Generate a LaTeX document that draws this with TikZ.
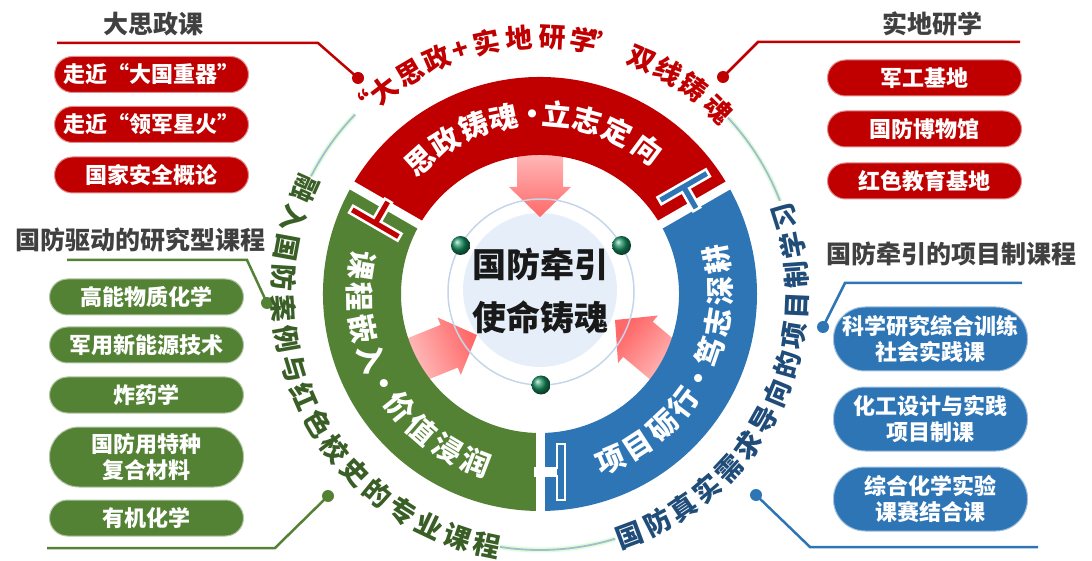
\documentclass[tikz,border=0pt]{standalone}
\usepackage{fontspec}
\setmainfont{Noto Sans CJK SC}[Script=CJK,Language=Chinese Simplified]

\begin{document}
\begin{tikzpicture}[x=1pt,y=1pt,
    pill/.style={fill=#1,draw=#1!45!white,line width=1pt,text=white,
      minimum width=194,minimum height=36,rounded corners=18,
      inner sep=0pt,align=center,font=\bfseries\fontsize{22}{26}\selectfont},
    tallpill/.style={pill=#1,minimum height=64,rounded corners=31.5},
    headline/.style={text=tgray,inner sep=0pt,font=\bfseries\fontsize{25}{30}\selectfont},
    leader/.style={draw=#1,line width=2.5pt},
    knob/.style={circle,fill=#1,inner sep=0pt,minimum size=12},
    arcchar/.style={inner sep=0pt,text height=23.8pt,text depth=3.2pt,
      font=\bfseries\fontsize{27}{27}\selectfont},
    ringchar/.style={inner sep=0pt,text height=25.5pt,text depth=3.5pt,text=white,
      font=\bfseries\fontsize{29}{29}\selectfont},
    plug/.style={fill=#1,draw=white,line width=2.5pt,line join=miter},
    rim/.style={draw=rimblue,line width=1.8pt},
    glow/.style={draw=green!40!white,line width=5pt,opacity=.35}
  ]

\definecolor{sred}{RGB}{192,0,0}
\definecolor{sgreen}{RGB}{84,130,53}
\definecolor{sblue}{RGB}{46,117,182}
\definecolor{dgreen}{RGB}{58,95,38}
\definecolor{dblue}{RGB}{31,76,121}
\definecolor{tgray}{RGB}{64,64,64}
\definecolor{lblue}{RGB}{230,239,249}
\definecolor{cline}{RGB}{197,213,234}
\definecolor{rimblue}{RGB}{170,186,206}
\definecolor{ballg}{RGB}{22,140,95}
\definecolor{pinkl}{RGB}{255,224,224}
\definecolor{pinkd}{RGB}{255,105,105}

\useasboundingbox (0,0) rectangle (1092,560);

% outer rim between the curved titles
\begin{scope}[shift={(540,267)}]
\foreach \s/\e in {136/153,261/287,21/43} {
  \draw[glow] (\s:257) arc[start angle=\s,end angle=\e,radius=257];
  \draw[rim] (\s:257) arc[start angle=\s,end angle=\e,radius=257];
}
\end{scope}

% leaders
\coordinate (szA) at (57,517);
\coordinate (szB) at (318,517);
\node[knob=sred] (szK) at (358,482) {};
\draw[leader=sred] (szA) -- (szB) -- (szK.center);

\coordinate (sdA) at (1020,518);
\coordinate (sdB) at (758,518);
\node[knob=sred] (sdK) at (723,483) {};
\draw[leader=sred] (sdA) -- (sdB) -- (sdK.center);

\coordinate (yjA) at (67,300);
\coordinate (yjB) at (247,300);
\node[knob=sgreen] (yjK) at (267,257) {};
\draw[leader=sgreen] (yjA) -- (yjB) -- (yjK.center);

\coordinate (zyA) at (47,12);
\coordinate (zyB) at (275,12);
\node[knob=sgreen] (zyK) at (328,64) {};
\draw[leader=sgreen] (zyA) -- (zyB) -- (zyK.center);

\coordinate (xmA) at (1022,277);
\coordinate (xmB) at (845,277);
\node[knob=sblue] (xmK) at (823,233) {};
\draw[leader=sblue] (xmA) -- (xmB) -- (xmK.center);

\coordinate (xxA) at (1038,13);
\coordinate (xxB) at (810,13);
\node[knob=sblue] (xxK) at (756,65) {};
\draw[leader=sblue] (xxA) -- (xxB) -- (xxK.center);

% side lists
\node[headline] (szT) at (153,536) {大思政课};
\node[pill=sred] (sz1) at (151.5,485.5) {走近“大国重器”};
\node[pill=sred] (sz2) at (151.5,435.5) {走近“领军星火”};
\node[pill=sred] (sz3) at (151.5,385) {国家安全概论};

\node[headline] (sdT) at (932,536) {实地研学};
\node[pill=sred] (sd1) at (924.5,482) {军工基地};
\node[pill=sred] (sd2) at (924.5,431) {国防博物馆};
\node[pill=sred] (sd3) at (924.5,379) {红色教育基地};

\node[headline] (yjT) at (141,320) {国防驱动的研究型课程};
\node[pill=sgreen] (yj1) at (146.5,263) {高能物质化学};
\node[pill=sgreen] (yj2) at (146.5,215) {军用新能源技术};
\node[pill=sgreen] (yj3) at (146.5,165) {炸药学};
\node[tallpill=sgreen,minimum height=60,rounded corners=29.5] (yj4) at (146.5,103) {国防用特种\\复合材料};
\node[pill=sgreen] (yj5) at (146.5,42) {有机化学};

\node[headline] (xmT) at (951,306) {国防牵引的项目制课程};
\node[tallpill=sblue] (xm1) at (930.5,221) {科学研究综合训练\\社会实践课};
\node[tallpill=sblue] (xm2) at (930.5,141) {化工设计与实践\\项目制课};
\node[tallpill=sblue] (xm3) at (930.5,61) {综合化学实验\\课赛结合课};

% core
\fill[lblue] (540,270) circle (77);
\foreach \p/\d in {{(540,343)}/-90,{(477,225)}/22,{(615,240)}/140} {
  \pgfmathsetmacro\sa{\d-90}
  \shade[top color=pinkd,bottom color=pinkl,shading angle=\sa,shift={\p},rotate=\d]
    (0,0) -- (-30,31) -- (-30,23) -- (-95,23) -- (-95,-23) -- (-30,-23) -- (-30,-31) -- cycle;
}
\draw[cline,line width=1.5pt] (541,268) circle (93);
\begin{scope}[shift={(541,268)}]
\foreach \a in {30,150,270}
  \shade[ball color=ballg] (\a:93) circle (9.5);
\end{scope}
\node[align=center,inner sep=0pt,text=black!90,font=\bfseries\fontsize{34}{53}\selectfont] (core) at (540,268.5) {国防牵引\\使命铸魂};

% ring
\begin{scope}[shift={(540,266)}]
\fill[sred] (30:217) arc[start angle=30,end angle=150,radius=217] -- (150:139) arc[start angle=150,end angle=30,radius=139] -- cycle;
\fill[sgreen] (150:217) arc[start angle=150,end angle=270,radius=217] -- (270:139) arc[start angle=270,end angle=150,radius=139] -- cycle;
\fill[sblue] (270:217) arc[start angle=270,end angle=390,radius=217] -- (30:139) arc[start angle=390,end angle=270,radius=139] -- cycle;
\foreach \g in {30,150,270}
  \draw[white,line width=9pt] (\g:132) -- (\g:224);
\foreach \g/\col in {150/sred,30/sblue,270/sblue}
  \draw[plug=\col,rotate=\g] (150,17) -- (174,17) -- (174,-5) -- (182,-5) -- (182,17) -- (206,17) -- (206,25) -- (150,25) -- cycle;
\fill[white,rotate=270] (172.75,-6.25) rectangle (183.25,17); % open stem at the bottom

\foreach \a/\c [count=\i] in {132/思,121.8/政,111.4/铸,101.7/魂,92.5/·,84.7/立,74.9/志,64.4/定,53.4/向}
  \node[ringchar,rotate=\a-90] (rs\i) at (\a:180) {\c};
\foreach \a/\c [count=\i] in {171/课,181/程,191/嵌,201/入,210/·,219/价,229/值,239/浸,249/润}
  \node[ringchar,rotate=\a+90] (rg\i) at (\a:180) {\c};
\foreach \a/\c [count=\i] in {293/项,303/目,313/砺,323/行,332/·,341/笃,351/志,361/深,371/耕}
  \node[ringchar,rotate=\a+90] (rb\i) at (\a:180) {\c};

% curved titles
\foreach \a/\c [count=\i] in {133.3/“,127.5/大,120.4/思,113.7/政,108/+,101.9/实,94.6/地,87.3/研,80.3/学,75.7/”,66.6/双,60/线,53.4/铸,46/魂}
  \node[arcchar,text=sred,rotate=\a-90] (top\i) at (\a:257) {\c};
\foreach \c [count=\i from 0] in {融,入,国,防,案,例,与,红,色,校,史,的,专,业,课,程}
  \node[arcchar,text=dgreen,rotate=156+6.8*\i+90] (lt\i) at ({156+6.8*\i}:257) {\c};
\foreach \c [count=\i from 0] in {国,防,真,实,需,求,导,向,的,项,目,制,学,习}
  \node[arcchar,text=dblue,rotate=290.5+6.7*\i+90] (rt\i) at ({290.5+6.7*\i}:257) {\c};
\end{scope}

\end{tikzpicture}
\end{document}
